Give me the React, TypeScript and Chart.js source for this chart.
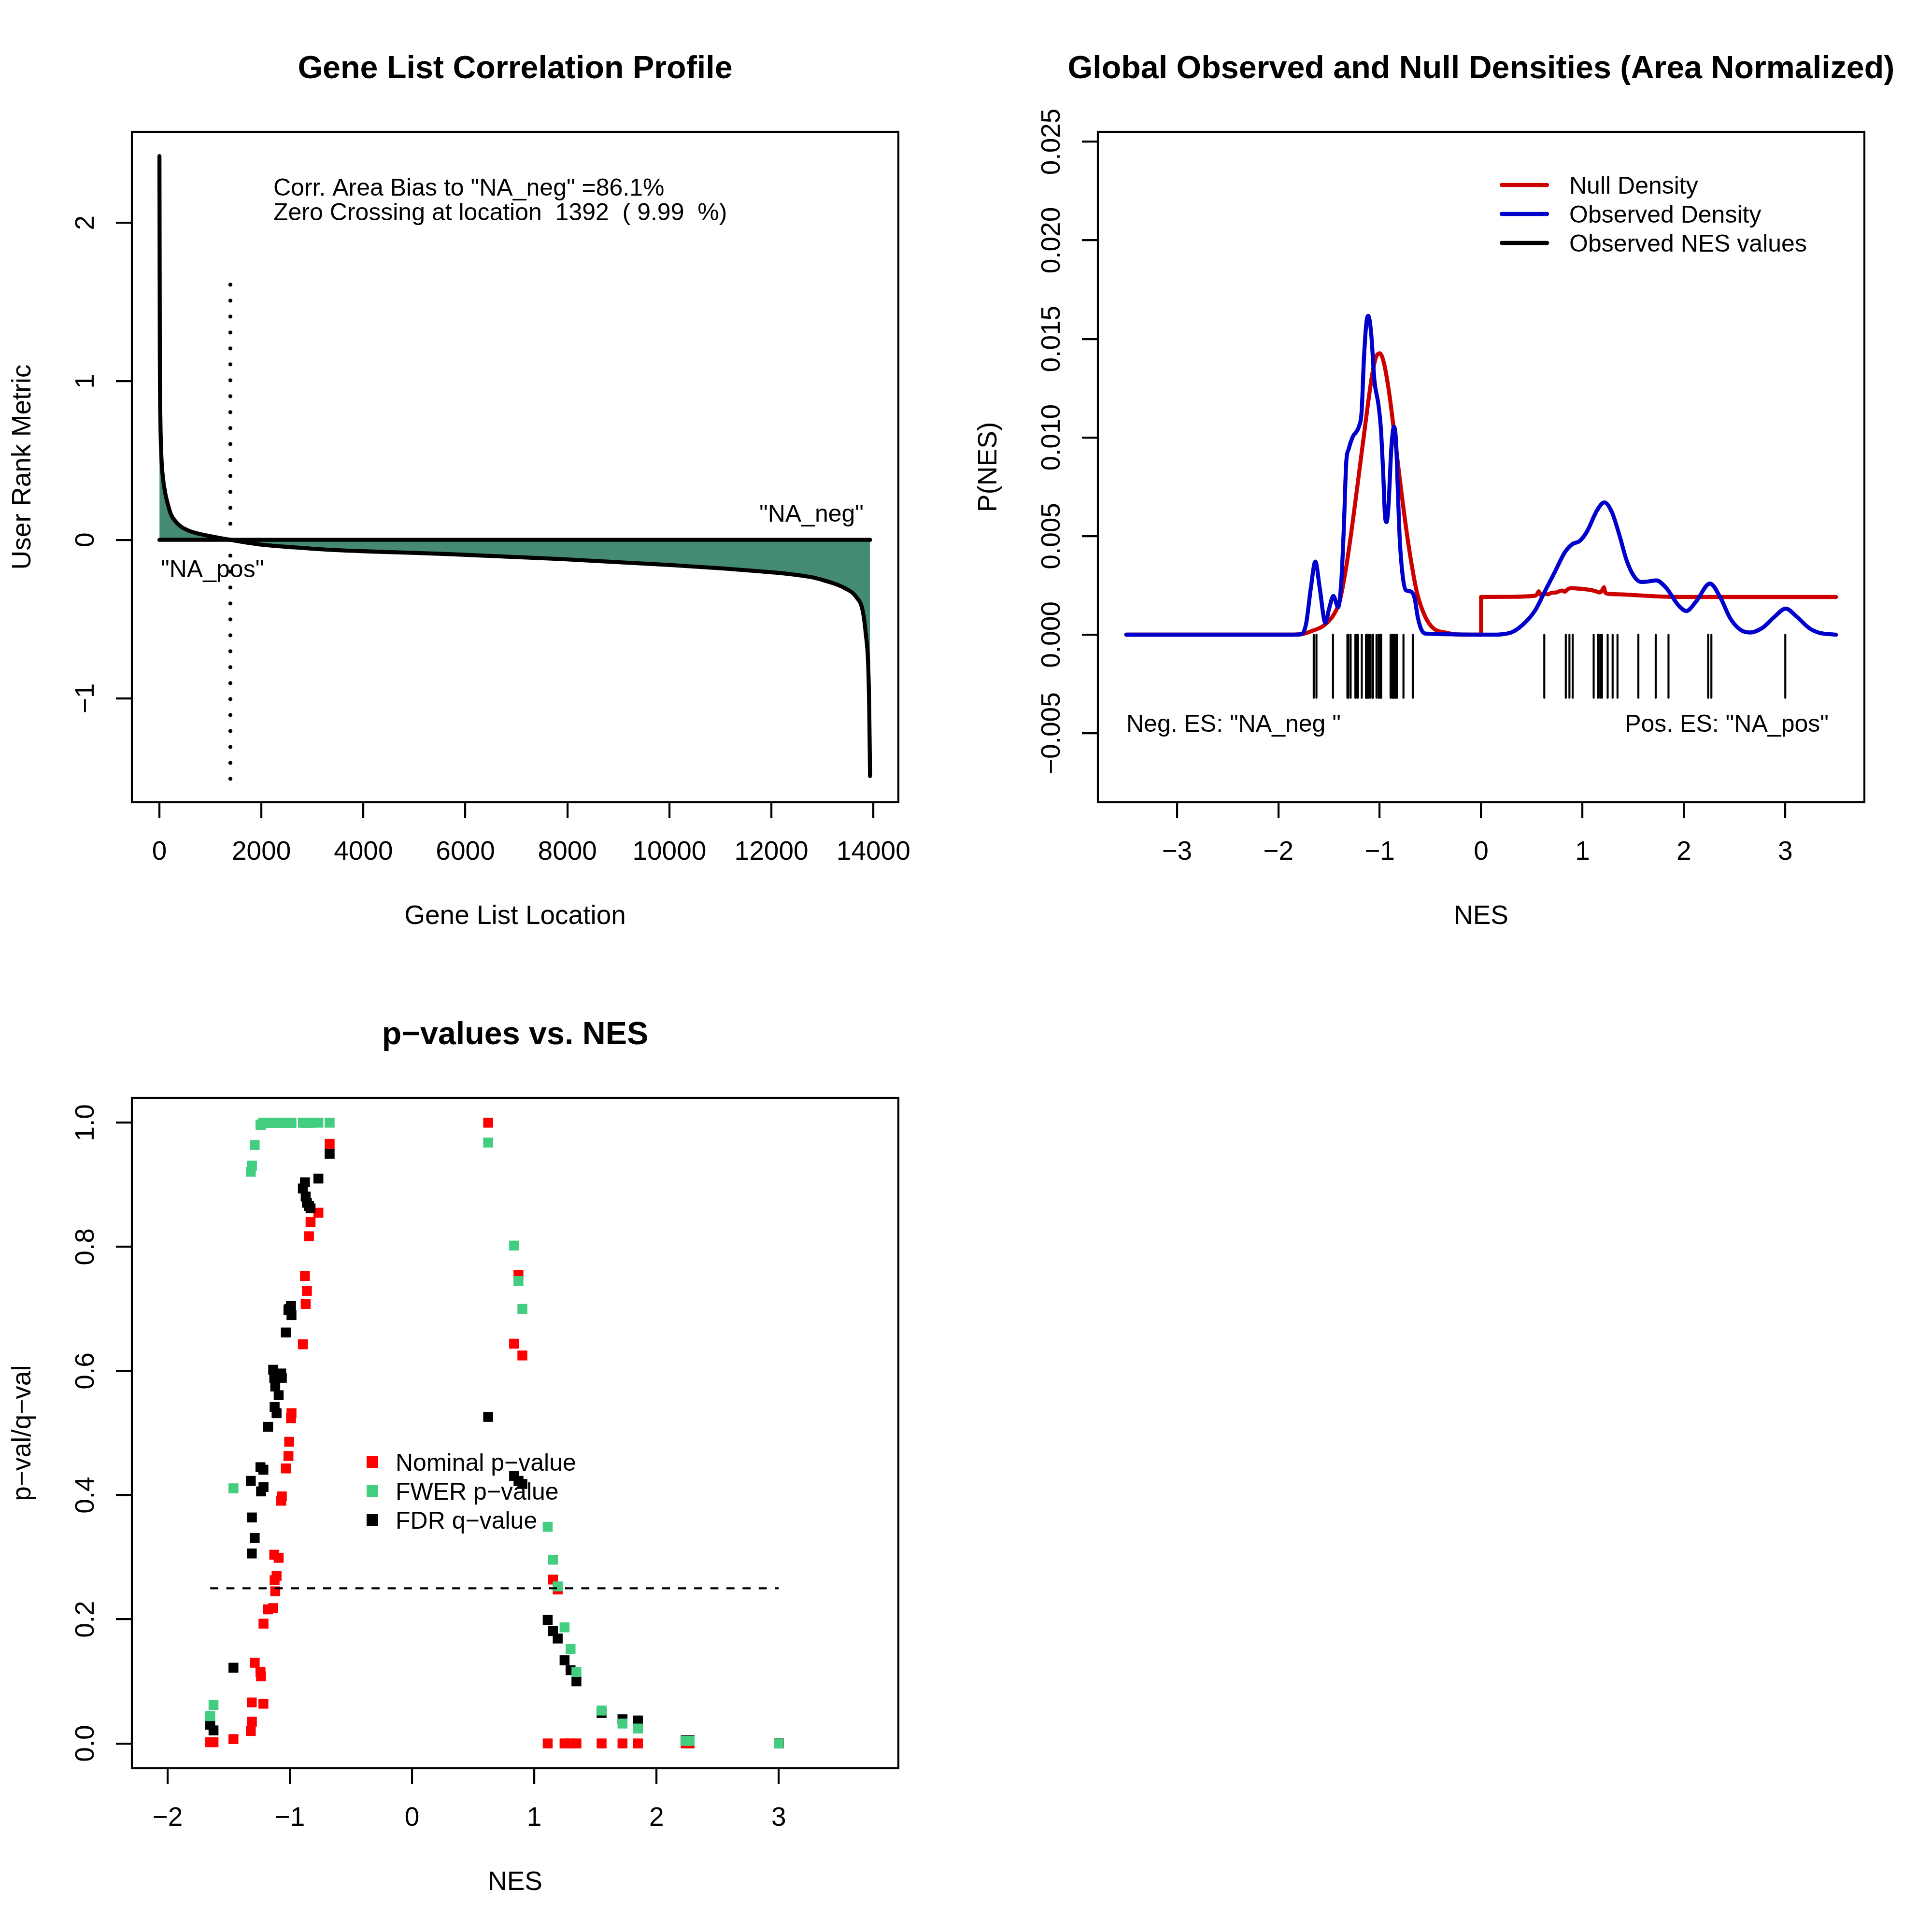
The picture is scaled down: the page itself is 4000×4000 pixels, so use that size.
import React, { useEffect, useRef } from "react";
import { Chart, registerables } from "chart.js";

Chart.register(...registerables);

const FONT = '"Liberation Sans", Arial, Helvetica, sans-serif';
const MINUS = "\u2212";
const LWD = 4.17;
const LWD2 = 8.33;

// ---------------- Panel 1: Gene List Correlation Profile ----------------
const geneLocation = [1, 8, 20, 38, 70, 117, 170, 227, 320, 416, 560, 731, 1046, 1392, 2000, 2623, 3300, 4200, 5682, 7853, 10026, 11077, 11708, 12339, 12812, 13127, 13442, 13663, 13789, 13852, 13899, 13920, 13934];
const rankMetric = [2.42, 1.2, 0.75, 0.53, 0.39, 0.29, 0.22, 0.16, 0.115, 0.085, 0.06, 0.042, 0.02, 0, -0.03, -0.047, -0.062, -0.074, -0.09, -0.121, -0.159, -0.181, -0.197, -0.215, -0.237, -0.265, -0.305, -0.36, -0.446, -0.595, -0.8, -1.1, -1.49];
const geneCount = 13934;
const zeroCrossing = 1392;
const dottedRange = [-1.507, 1.648];
const p1XRange = [-540, 14490];
const p1YRange = [-1.655, 2.573];
const p1XTicks = [0, 2000, 4000, 6000, 8000, 10000, 12000, 14000];
const p1YTicks = [-1, 0, 1, 2];

// ---------------- Panel 2: Global Observed and Null Densities ----------------
const nullNegX = [-3.5, -1.9, -1.775, -1.664, -1.552, -1.457, -1.394, -1.33, -1.267, -1.203, -1.14, -1.076, -1.037, -1.0, -0.957, -0.902, -0.838, -0.775, -0.711, -0.632, -0.552, -0.473, -0.346, -0.2, 0];
const nullNegY = [0, 0, 0.00002, 0.0002, 0.00046, 0.00099, 0.00172, 0.00345, 0.0057, 0.00823, 0.01075, 0.01314, 0.01407, 0.01427, 0.01374, 0.01208, 0.00942, 0.00677, 0.00438, 0.00212, 0.00092, 0.00033, 0.0001, 0, 0];
const nullPosX = [0, 0.3, 0.507, 0.55, 0.568, 0.585, 0.62, 0.66, 0.7, 0.74, 0.78, 0.8, 0.823, 0.86, 0.9, 0.95, 1.0, 1.06, 1.12, 1.17, 1.19, 1.211, 1.225, 1.26, 1.4, 1.6, 1.85, 2.2, 3.5];
const nullPosY = [0.00191, 0.00192, 0.00196, 0.00203, 0.0022, 0.00203, 0.00208, 0.00205, 0.00213, 0.00214, 0.00222, 0.00224, 0.00218, 0.00232, 0.00236, 0.00234, 0.00232, 0.00228, 0.00222, 0.00214, 0.00222, 0.0024, 0.00213, 0.00207, 0.00204, 0.00198, 0.00192, 0.00191, 0.00191];
const obsX = [-3.5, -1.85, -1.775, -1.727, -1.679, -1.635, -1.592, -1.536, -1.5, -1.457, -1.41, -1.378, -1.354, -1.33, -1.306, -1.267, -1.203, -1.179, -1.155, -1.132, -1.113, -1.084, -1.052, -1.013, -0.989, -0.965, -0.949, -0.933, -0.914, -0.886, -0.859, -0.838, -0.822, -0.802, -0.775, -0.743, -0.695, -0.656, -0.624, -0.584, -0.537, 0.1, 0.29, 0.412, 0.534, 0.631, 0.729, 0.826, 0.899, 0.972, 1.045, 1.143, 1.216, 1.289, 1.362, 1.435, 1.508, 1.581, 1.65, 1.727, 1.824, 1.946, 2.024, 2.116, 2.257, 2.359, 2.457, 2.554, 2.651, 2.773, 2.894, 3.004, 3.113, 3.234, 3.332, 3.5];
const obsY = [0, 0, 0.00002, 0.00053, 0.00238, 0.00371, 0.00238, 0.0006, 0.0013, 0.00196, 0.00139, 0.00278, 0.00544, 0.00876, 0.00942, 0.01002, 0.01059, 0.01128, 0.01407, 0.0158, 0.01617, 0.01526, 0.01287, 0.01168, 0.01048, 0.00809, 0.0061, 0.00571, 0.0065, 0.00942, 0.01055, 0.00969, 0.0074, 0.00478, 0.00305, 0.00226, 0.00219, 0.00185, 0.00086, 0.0002, 0.00005, 0, 0.0001, 0.00051, 0.00124, 0.00222, 0.0032, 0.00418, 0.00459, 0.00475, 0.00524, 0.0063, 0.00671, 0.00622, 0.00508, 0.00377, 0.00296, 0.00267, 0.0027, 0.00275, 0.00238, 0.00149, 0.0012, 0.00165, 0.00259, 0.00189, 0.00083, 0.00026, 0.00011, 0.00034, 0.00091, 0.00132, 0.00091, 0.00034, 0.0001, 0];
const rugNES = [-1.651, -1.624, -1.461, -1.319, -1.311, -1.31, -1.287, -1.24, -1.235, -1.216, -1.215, -1.177, -1.136, -1.127, -1.124, -1.119, -1.108, -1.091, -1.07, -1.065, -1.032, -1.011, -1.005, -0.99, -0.986, -0.893, -0.876, -0.87, -0.86, -0.843, -0.83, -0.766, -0.674, 0.623, 0.835, 0.871, 0.903, 1.11, 1.153, 1.175, 1.192, 1.248, 1.297, 1.345, 1.551, 1.722, 1.848, 2.239, 2.271, 3.0];
const rugDepth = -0.0032;
const p2XRange = [-3.78, 3.78];
const p2YRange = [-0.0085, 0.0255];
const p2XTicks = [-3, -2, -1, 0, 1, 2, 3];
const p2YTicks = [-0.005, 0, 0.005, 0.01, 0.015, 0.02, 0.025];
const densityLegend = ["Null Density", "Observed Density", "Observed NES values"];

// ---------------- Panel 3: p-values vs. NES ----------------
const setNES = [-1.651, -1.624, -1.461, -1.319, -1.311, -1.31, -1.287, -1.24, -1.235, -1.216, -1.215, -1.177, -1.136, -1.127, -1.124, -1.119, -1.108, -1.091, -1.07, -1.065, -1.032, -1.011, -1.005, -0.99, -0.986, -0.893, -0.876, -0.87, -0.86, -0.843, -0.83, -0.766, -0.674, 0.623, 0.835, 0.871, 0.903, 1.11, 1.153, 1.192, 1.248, 1.297, 1.345, 1.551, 1.722, 1.848, 2.239, 2.271, 3.0];
const nominalP = [0.002, 0.002, 0.007, 0.02, 0.066, 0.035, 0.13, 0.115, 0.108, 0.064, 0.193, 0.216, 0.218, 0.304, 0.263, 0.245, 0.27, 0.299, 0.391, 0.398, 0.443, 0.463, 0.486, 0.524, 0.532, 0.643, 0.753, 0.708, 0.729, 0.817, 0.84, 0.855, 0.966, 1.0, 0.644, 0.755, 0.625, 0, 0.264, 0.248, 0, 0, 0, 0, 0, 0, 0, 0, 0];
const fwerP = [0.044, 0.062, 0.411, 0.921, 0.931, 0.93, 0.964, 0.997, 0.996, 1, 1, 1, 1, 1, 1, 1, 1, 1, 1, 1, 1, 1, 1, 1, 1, 1, 1, 1, 1, 1, 1, 1, 1, 0.968, 0.802, 0.745, 0.7, 0.349, 0.296, 0.253, 0.187, 0.152, 0.115, 0.053, 0.032, 0.024, 0.004, 0.004, 0];
const fdrQ = [0.03, 0.021, 0.122, 0.423, 0.306, 0.364, 0.331, 0.445, 0.406, 0.441, 0.413, 0.51, 0.602, 0.589, 0.542, 0.575, 0.532, 0.561, 0.596, 0.589, 0.662, 0.698, 0.7, 0.705, 0.69, 0.894, 0.904, 0.881, 0.871, 0.866, 0.862, 0.91, 0.95, 0.526, 0.431, 0.423, 0.418, 0.199, 0.181, 0.169, 0.134, 0.118, 0.1, 0.049, 0.039, 0.037, 0.005, 0.005, 0];
const fdrThreshold = 0.25;
const p3XRange = [-2.292, 3.979];
const p3YRange = [-0.04, 1.04];
const p3XTicks = [-2, -1, 0, 1, 2, 3];
const p3YTicks = [0, 0.2, 0.4, 0.6, 0.8, 1.0];
const pvalLegend = ["Nominal p\u2212value", "FWER p\u2212value", "FDR q\u2212value"];

const RED3 = "#CD0000";
const BLUE3 = "#0000CD";
const AQUA4 = "#458B74";
const SEAGREEN3 = "#43CD80";
const RED = "#FF0000";

// ---------------- helpers ----------------
const pts = (xs: number[], ys: number[]) => xs.map((x, i) => ({ x, y: ys[i] }));
const fmtNum = (v: number, d: number) => (v < -1e-12 ? MINUS : "") + Math.abs(v).toFixed(d);

function drawText(
  ctx: CanvasRenderingContext2D,
  s: string,
  x: number,
  y: number,
  size: number,
  align: CanvasTextAlign = "left",
  bold = false,
  rotate = false
) {
  ctx.save();
  ctx.font = `${bold ? "bold " : ""}${size}px ${FONT}`;
  ctx.fillStyle = "#000";
  ctx.textAlign = align;
  ctx.textBaseline = "alphabetic";
  ctx.translate(x, y);
  if (rotate) ctx.rotate(-Math.PI / 2);
  ctx.fillText(s, 0, 0);
  ctx.restore();
}

type Spec = {
  title: string;
  xTitle: string;
  yTitle: string;
  yTicks: number[];
  yDec: number;
  extra?: (ctx: CanvasRenderingContext2D, chart: any) => void;
};

function decorPlugin(spec: Spec) {
  return {
    id: "rdecor",
    afterDraw(chart: any) {
      const ctx = chart.ctx as CanvasRenderingContext2D;
      const a = chart.chartArea;
      ctx.save();
      ctx.strokeStyle = "#000";
      ctx.lineWidth = LWD;
      ctx.strokeRect(a.left, a.top, a.right - a.left, a.bottom - a.top);
      ctx.restore();
      const cx = (a.left + a.right) / 2;
      const cy = (a.top + a.bottom) / 2;
      drawText(ctx, spec.title, cx, 162, 66.4, "center", true);
      drawText(ctx, spec.xTitle, cx, 1913, 55, "center");
      drawText(ctx, spec.yTitle, 63, cy, 55, "center", false, true);
      const ys = chart.scales.y;
      spec.yTicks.forEach((v) =>
        drawText(ctx, fmtNum(v, spec.yDec), 194, ys.getPixelForValue(v), 55, "center", false, true)
      );
      if (spec.extra) spec.extra(ctx, chart);
    },
  };
}

function axis(range: number[], ticks: number[], dec: number, horizontal: boolean) {
  return {
    type: "linear",
    position: horizontal ? "bottom" : "left",
    min: range[0],
    max: range[1],
    afterFit: (s: any) => {
      if (horizontal) s.height = 339;
      else s.width = 0;
    },
    afterBuildTicks: (s: any) => {
      s.ticks = ticks.map((v) => ({ value: v }));
    },
    grid: {
      drawOnChartArea: false,
      drawTicks: true,
      tickLength: 33,
      color: "#000",
      lineWidth: LWD,
      tickWidth: LWD,
      tickColor: "#000",
    },
    border: { display: false },
    ticks: horizontal
      ? {
          display: true,
          autoSkip: false,
          maxRotation: 0,
          minRotation: 0,
          padding: 38,
          color: "#000",
          font: { family: FONT, size: 55 },
          callback: (v: number) => fmtNum(v, dec),
        }
      : { display: false },
  };
}

function baseOptions(xr: number[], xt: number[], xd: number, yr: number[], yt: number[], yd: number) {
  return {
    responsive: false,
    animation: false,
    devicePixelRatio: 1,
    events: [],
    layout: { padding: { left: 273, top: 273, right: 140, bottom: 0 } },
    plugins: { legend: { display: false }, tooltip: { enabled: false }, title: { display: false } },
    scales: { x: axis(xr, xt, xd, true), y: axis(yr, yt, yd, false) },
  };
}

const lineDefaults = {
  pointRadius: 0,
  borderCapStyle: "round",
  borderJoinStyle: "round",
  fill: false,
};

// ---------------- chart configs ----------------
function makeProfile(): any {
  return {
    type: "line",
    data: {
      datasets: [
        { ...lineDefaults, data: [{ x: 1, y: 0 }, { x: geneCount, y: 0 }], borderColor: "#000", borderWidth: LWD2, tension: 0 },
        {
          ...lineDefaults,
          data: [{ x: zeroCrossing, y: dottedRange[0] }, { x: zeroCrossing, y: dottedRange[1] }],
          borderColor: "#000",
          borderWidth: LWD2,
          borderDash: [0, 33],
          tension: 0,
        },
        {
          ...lineDefaults,
          data: pts(geneLocation, rankMetric),
          borderColor: "#000",
          borderWidth: LWD2,
          cubicInterpolationMode: "monotone",
          fill: "origin",
          backgroundColor: AQUA4,
        },
      ],
    },
    options: baseOptions(p1XRange, p1XTicks, 0, p1YRange, p1YTicks, 0),
    plugins: [
      decorPlugin({
        title: "Gene List Correlation Profile",
        xTitle: "Gene List Location",
        yTitle: "User Rank Metric",
        yTicks: p1YTicks,
        yDec: 0,
        extra: (ctx) => {
          drawText(ctx, 'Corr. Area Bias to "NA_neg" =86.1%', 566, 405, 50);
          drawText(ctx, "Zero Crossing at location  1392  ( 9.99  %)", 566, 456, 50);
          drawText(ctx, '"NA_neg"', 1680, 1080, 50, "center");
          drawText(ctx, '"NA_pos"', 333, 1195, 50);
        },
      }),
    ],
  };
}

function makeDensity(): any {
  const rug: any[] = [];
  rugNES.forEach((v) => {
    rug.push({ x: v, y: 0 }, { x: v, y: rugDepth }, { x: v, y: null });
  });
  return {
    type: "line",
    data: {
      datasets: [
        { ...lineDefaults, borderCapStyle: "butt", data: rug, borderColor: "#000", borderWidth: LWD, spanGaps: false, tension: 0 },
        { ...lineDefaults, data: pts(obsX, obsY), borderColor: BLUE3, borderWidth: LWD2, cubicInterpolationMode: "monotone" },
        { ...lineDefaults, data: [{ x: 0, y: 0 }, { x: 0, y: nullPosY[0] }], borderColor: RED3, borderWidth: LWD2, tension: 0 },
        { ...lineDefaults, data: pts(nullNegX, nullNegY), borderColor: RED3, borderWidth: LWD2, cubicInterpolationMode: "monotone" },
        { ...lineDefaults, data: pts(nullPosX, nullPosY), borderColor: RED3, borderWidth: LWD2, cubicInterpolationMode: "monotone" },
      ],
    },
    options: baseOptions(p2XRange, p2XTicks, 0, p2YRange, p2YTicks, 3),
    plugins: [
      decorPlugin({
        title: "Global Observed and Null Densities (Area Normalized)",
        xTitle: "NES",
        yTitle: "P(NES)",
        yTicks: p2YTicks,
        yDec: 3,
        extra: (ctx) => {
          const cols = [RED3, BLUE3, "#000"];
          densityLegend.forEach((lab, i) => {
            const y = 383 + i * 60;
            ctx.save();
            ctx.strokeStyle = cols[i];
            ctx.lineWidth = LWD2;
            ctx.lineCap = "round";
            ctx.beginPath();
            ctx.moveTo(1109, y);
            ctx.lineTo(1203, y);
            ctx.stroke();
            ctx.restore();
            drawText(ctx, lab, 1249, y + 18, 50);
          });
          drawText(ctx, 'Neg. ES: "NA_neg "', 332, 1515, 50);
          drawText(ctx, 'Pos. ES: "NA_pos"', 1786, 1515, 50, "right");
        },
      }),
    ],
  };
}

function makePvalues(): any {
  const pointDs = (ys: number[], color: string) => ({
    data: pts(setNES, ys),
    showLine: false,
    pointStyle: "rect",
    pointRadius: 14.5,
    pointBackgroundColor: color,
    pointBorderWidth: 0,
    borderColor: color,
    backgroundColor: color,
  });
  const nesMin = Math.min(...setNES);
  const nesMax = Math.max(...setNES);
  return {
    type: "line",
    data: {
      datasets: [
        {
          ...lineDefaults,
          borderCapStyle: "butt",
          data: [{ x: nesMin, y: fdrThreshold }, { x: nesMax, y: fdrThreshold }],
          borderColor: "#000",
          borderWidth: LWD,
          borderDash: [16.7, 16.7],
          tension: 0,
        },
        pointDs(fwerP, SEAGREEN3),
        pointDs(fdrQ, "#000"),
        pointDs(nominalP, RED),
      ],
    },
    options: baseOptions(p3XRange, p3XTicks, 0, p3YRange, p3YTicks, 1),
    plugins: [
      decorPlugin({
        title: "p\u2212values vs. NES",
        xTitle: "NES",
        yTitle: "p\u2212val/q\u2212val",
        yTicks: p3YTicks,
        yDec: 1,
        extra: (ctx) => {
          const cols = [RED, SEAGREEN3, "#000"];
          pvalLegend.forEach((lab, i) => {
            const y = 1027 + i * 60;
            ctx.save();
            ctx.fillStyle = cols[i];
            ctx.fillRect(771 - 12, y - 12, 24, 24);
            ctx.restore();
            drawText(ctx, lab, 819, y + 18, 50);
          });
        },
      }),
    ],
  };
}

function Panel({ left, top, make }: { left: number; top: number; make: () => any }) {
  const ref = useRef<HTMLCanvasElement>(null);
  useEffect(() => {
    const chart = new Chart(ref.current as HTMLCanvasElement, make());
    return () => chart.destroy();
  }, []);
  return (
    <canvas
      ref={ref}
      width={2000}
      height={2000}
      style={{ position: "absolute", left, top, width: 2000, height: 2000 }}
    />
  );
}

export default function App() {
  return (
    <div style={{ position: "absolute", left: 0, top: 0, width: 4000, height: 4000, background: "#fff" }}>
      <Panel left={0} top={0} make={makeProfile} />
      <Panel left={2000} top={0} make={makeDensity} />
      <Panel left={0} top={2000} make={makePvalues} />
    </div>
  );
}
